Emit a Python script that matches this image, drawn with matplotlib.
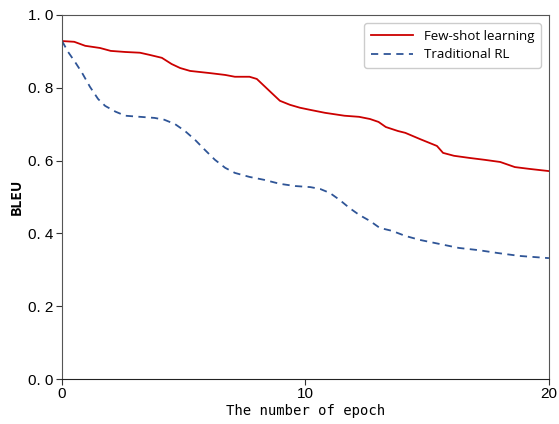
import numpy as np
import matplotlib
matplotlib.use('Agg')
from matplotlib import pyplot as plt

# Data
few_shot_epoch = [0, 0.5, 0.95, 1.56, 2, 2.6, 3.2, 3.6, 4.1, 4.5, 4.85, 5.26, 6.08, 6.7,
                  7.1, 7.7, 8.0, 8.3, 8.6, 8.95, 9.36, 9.77, 10.2, 10.8, 11.6, 12.2,
                  12.65, 13.0, 13.3, 13.8, 14.1, 14.7, 15.4, 15.65, 16.1, 16.75, 17.35,
                  18.0, 18.6, 19.2, 20]
few_shot_bleu = [0.928, 0.926, 0.915, 0.909, 0.901, 0.898, 0.896, 0.890, 0.882, 0.865,
                 0.854, 0.846, 0.840, 0.835, 0.830, 0.830, 0.824, 0.805, 0.786, 0.764,
                 0.753, 0.745, 0.739, 0.731, 0.723, 0.720, 0.714, 0.706, 0.692, 0.681,
                 0.676, 0.659, 0.640, 0.621, 0.613, 0.607, 0.602, 0.596, 0.582, 0.577,
                 0.571]

rl_epoch = [0, 0.25, 0.53, 0.82, 1.15, 1.48, 1.77, 2.2, 2.6, 3.2, 3.8, 4.2, 4.64, 5.05,
            5.46, 5.87, 6.28, 6.7, 7.1, 7.7, 8.3, 8.95, 9.57, 10.2, 10.6, 11.0, 11.4,
            11.8, 12.2, 12.65, 13.05, 13.55, 14.1, 14.7, 15.5, 16.3, 17.1, 17.9, 18.8, 20]
rl_bleu = [0.928, 0.898, 0.871, 0.841, 0.802, 0.769, 0.750, 0.734, 0.723, 0.720, 0.717,
           0.712, 0.700, 0.681, 0.657, 0.629, 0.602, 0.580, 0.566, 0.555, 0.547, 0.536,
           0.530, 0.527, 0.522, 0.511, 0.492, 0.470, 0.451, 0.434, 0.415, 0.407, 0.393,
           0.382, 0.371, 0.360, 0.354, 0.346, 0.338, 0.332]

x_ticks = [0, 10, 20]
y_ticks = [0.0, 0.2, 0.4, 0.6, 0.8, 1.0]
y_tick_labels = ['0. 0', '0. 2', '0. 4', '0. 6', '0. 8', '1. 0']

fig = plt.figure(figsize=(5.59, 4.24), dpi=100)
ax = fig.add_axes([0.111, 0.106, 0.871, 0.859])

ax.plot(few_shot_epoch, few_shot_bleu, color='#CC0000', lw=1.3, label='Few-shot learning')
ax.plot(rl_epoch, rl_bleu, color='#2F5597', lw=1.3, ls=(0, (4, 3)), label='Traditional RL')

ax.set_xlim(0, 20)
ax.set_ylim(0, 1.0)
ax.set_xticks(x_ticks)
ax.set_yticks(y_ticks)
ax.set_yticklabels(y_tick_labels)

for lab in ax.get_xticklabels() + ax.get_yticklabels():
    lab.set_family('Liberation Sans')
    lab.set_fontsize(11)

ax.set_xlabel('The number of epoch', family='DejaVu Sans Mono', fontsize=10, labelpad=2)
ax.set_ylabel('BLEU', family='Noto Sans CJK SC', fontsize=10, fontweight='bold', labelpad=3)

for s in ['top', 'right', 'left']:
    ax.spines[s].set_color('#555555')
ax.spines['bottom'].set_color('#222222')
ax.tick_params(direction='out', length=4, color='#333333', pad=2)

leg = ax.legend(loc='upper right', prop={'family': 'Open Sans', 'size': 9.5},
                frameon=True, fancybox=True, handlelength=3.2, borderpad=0.5,
                labelspacing=0.4, framealpha=1, edgecolor='#cccccc',
                bbox_to_anchor=(0.997, 0.995))

plt.savefig('out.png', dpi=100)
